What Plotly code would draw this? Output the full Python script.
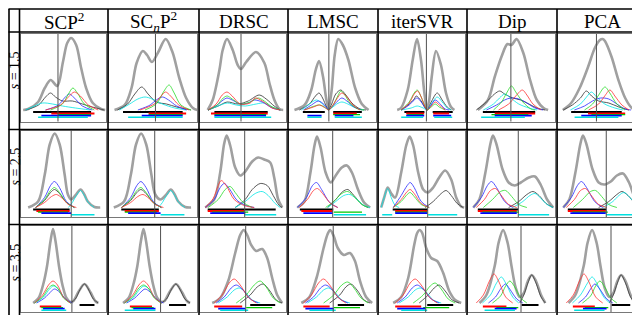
import plotly.graph_objects as go

W, H = 640, 315

methods = ["SCP<sup>2</sup>", "SC<sub><i>n</i></sub>P<sup>2</sup>", "DRSC", "LMSC", "iterSVR", "Dip", "PCA"]
s_labels = ["<i>s</i> = 1.5", "<i>s</i> = 2.5", "<i>s</i> = 3.5"]

# ---------------- data (x: position in panel, y: density height) ----------
# total density (thick gray) per method, for s = 1.5, 2.5, 3.5
gray_s15 = [
    [[2.5,0],[7.5,1],[17.5,8],[24.2,22],[30.2,30],[36.8,24],[42.5,48],[46.8,67],[50.8,72],[55.8,65],[60.8,42],[65.8,22],[72.5,7],[80.8,1],[85,0]],
    [[5.2,0],[15.2,5],[21.8,22],[26.8,47],[32.8,59],[37,55],[41.8,48],[48,58],[55.2,71],[61.8,58],[68.5,32],[75.2,12],[81.8,2],[86,0]],
    [[7.5,0],[12.5,10],[19.2,40],[22.5,60],[26.8,71],[32.5,60],[37.5,45],[40.8,41],[46,48],[55.8,58],[64.2,47],[69.2,27],[74.2,10],[79.2,1],[83,0]],
    [[5.2,0],[15.2,5],[21.8,20],[26.2,40],[29.5,49],[33.5,33],[36.8,10],[39,2],[42,20],[45,55],[48.5,71],[53,65],[58.5,50],[65.2,22],[71.8,6],[78.5,0]],
    [[18,0],[21.8,2],[28.5,20],[33.5,50],[37.8,71],[41.8,50],[45.2,17],[47.8,1],[50,10],[52.5,33],[56.8,59],[61.8,45],[66.8,17],[71.8,3],[75.2,0]],
    [[9.5,0],[19.5,10],[26.2,33],[32.8,53],[38.8,66],[42.8,65],[47.8,71],[54.5,57],[61.2,30],[67.8,10],[74.5,2],[79,0]],
    [[4.5,0],[12.8,7],[21.2,22],[29.5,43],[36.2,62],[41.2,70],[44,71],[46.2,69],[52.8,53],[59.5,30],[66.2,12],[72.8,2],[78,0]],
]
gray_s25 = [
    [[7.5,0],[17.5,6],[24.2,33],[29.2,63],[34.2,74],[39.2,63],[44.2,33],[47.5,13],[50.8,8],[55,12],[60.2,18],[64,13],[67.5,6],[74.2,0.5],[80,0]],
    [[4.5,0],[14.5,6],[21.2,33],[26.2,63],[31.2,74],[36.2,63],[41.2,33],[45,13],[50.2,8],[55,12],[60.2,18],[64,13],[67.5,6],[74.2,0.5],[80,0]],
    [[5,0],[14,8],[20,35],[24,64],[26.5,72],[30,62],[35,40],[40,32],[45,36],[52,46],[58,50],[64,48],[70,45],[74,30],[78,8],[82,0]],
    [[8,0],[15,6],[21,35],[25,62],[27.5,71],[31,60],[36,35],[41,25],[46,32],[52,40],[57,42],[62,35],[68,18],[74,5],[80,0]],
    [[2,0],[5,10],[8.5,20],[12,14],[16,10],[22,35],[27,62],[30.5,71],[34,62],[39,35],[44,18],[48.5,15],[54,20],[60,30],[66,37],[72,28],[77,10],[82,1],[85,0]],
    [[5,0],[11,8],[17,35],[22,64],[24.5,72],[28,63],[34,38],[40,25],[46,22],[52,25],[60,30],[66,31],[72,22],[78,8],[84,0]],
    [[5,0],[11,8],[17,35],[22,64],[24.5,72],[28,63],[34,38],[40,25],[46,23],[52,26],[58,32],[64,34],[70,25],[76,9],[82,0]],
]
gray_s35 = [
    [[12.5,0],[18,5],[23,20],[26.5,37],[30,62],[32.5,74],[35,62],[38.5,37],[42,18],[46,5],[50,1],[53,2],[58,11],[64.2,19],[70,11],[75,2],[78,0]],
    [[13.5,0],[19,5],[24,20],[27.5,37],[31,62],[33.5,74],[36,62],[39.5,37],[43,18],[47,5],[51,1],[54,2],[59,11],[65.2,19],[71,11],[76,2],[79,0]],
    [[12,0],[20,5],[28,22],[35,50],[40,68],[43.5,73],[47,68],[51,58],[56,52],[62,54],[67,45],[72,25],[77,8],[82,0]],
    [[12,0],[20,6],[27,25],[34,55],[38,69],[40.5,73],[44,67],[48,55],[54,48],[60,50],[65,42],[70,22],[76,6],[82,0]],
    [[14,0],[22,6],[29,25],[35,58],[38,70],[40.5,73],[43,70],[47,55],[52,45],[58,42],[64,30],[70,12],[76,3],[82,0]],
    [[11.2,0],[18,8],[26.2,37],[30,60],[34.5,73],[39,60],[42.8,37],[47,15],[51,6],[55,10],[59,22],[62.8,28],[67,22],[72,8],[76.2,0]],
    [[10.2,0],[17,8],[25.2,37],[29,60],[33.5,73],[38,60],[41.8,37],[46,15],[50.5,6],[54.5,10],[58.5,22],[62.2,28],[66.5,22],[71.5,8],[76,0]],
]

# component densities (thin lines)
dark_s15 = [
    [[5,0],[18,5],[25,13],[30,17],[35,13],[42,9],[52,9],[62,6],[72,3],[84,0]],
    [[8,0],[18,6],[25,16],[31.8,23],[38,16],[46,8],[56,6],[66,3],[80,0]],
    [[8,0],[18,4],[27,8],[38,6],[48,9],[59,15],[66,11],[74,4],[80,0]],
    [[10,0],[20,6],[26,14],[29.5,17],[33,12],[37,3],[39,0.5],[42,6],[46,16],[51,20],[56,15],[62,7],[70,1],[76,0]],
    [[22,0],[30,6],[35,11],[37,14],[42,9],[46,2],[48,0],[52,8],[58,17],[63,10],[68,3],[72,0]],
    [[8,0],[18,8],[26,16],[31.2,19],[36,16],[44,12],[52,10],[60,6],[68,2],[76,0]],
    [[5,0],[14,5],[22,12],[27.8,19],[33,14],[40,9],[50,7],[60,3],[70,0]],
]
red_s15 = [
    [[25,0],[40,5],[48,13],[54,18],[60,14],[68,5],[78,0]],
    [[30,0],[44,6],[50,13],[55,18],[60,14],[68,5],[78,0]],
    [[8,0],[16,6],[22,15],[26.8,18],[32,14],[40,6],[50,7],[55,12],[62,9],[72,2],[80,0]],
    [[15,0],[24,3],[30,5],[36,2],[39,0],[42,3],[47,11],[52,17],[57,13],[63,5],[70,0]],
    [[22,0],[30,7],[35,16],[38.5,19],[42,13],[46,3],[48,0],[52,4],[56,8],[60,5],[66,0]],
    [[30,0],[40,6],[47,14],[53.5,20],[58,15],[64,6],[72,0]],
    [[30,0],[40,6],[46,14],[51.2,20],[56,14],[63,5],[70,0]],
]
green_s15 = [
    [[30,0],[42,6],[48,16],[52.5,22],[57,17],[64,6],[74,0]],
    [[35,0],[46,6],[53,18],[58.5,25],[63,18],[70,5],[80,0]],
    [[8,0],[17,5],[23,12],[27,14],[32,11],[40,6],[50,8],[58,12],[64,9],[72,3],[80,0]],
    [[15,0],[25,4],[30,5],[36,2],[39,0],[44,6],[48,14],[51,19],[55,15],[60,7],[68,1],[74,0]],
    [[22,0],[30,8],[35,17],[38,20],[42,13],[46,3],[48,0],[52,3],[56,6],[60,3],[66,0]],
    [[25,0],[33,8],[38,17],[42.8,24],[47,18],[54,8],[62,1],[66,0]],
    [[26,0],[34,6],[40,15],[46.2,23],[51,17],[58,6],[66,0]],
]
blue_s15 = [
    [[25,0],[38,5],[44,12],[49,16],[54,12],[62,4],[72,0]],
    [[28,0],[40,5],[46,10],[52,13],[58,10],[66,4],[76,0]],
    [[8,0],[17,5],[23,10],[26.8,12],[32,10],[40,6],[48,7],[54,10],[62,8],[72,2],[80,0]],
    [[14,0],[22,5],[29,9],[35,5],[39,0],[42,3],[47,8],[52,12],[57,9],[64,3],[72,0]],
    [[22,0],[30,5],[35,10],[38,12],[42,8],[46,2],[48,0],[52,5],[56,10],[60,7],[66,1],[70,0]],
    [[18,0],[28,5],[36,10],[42,12],[50,11],[58,7],[66,2],[74,0]],
    [[16,0],[26,4],[34,9],[42,12],[50,11],[58,6],[66,1],[72,0]],
]
cyan_s15 = [
    [[5,0],[14,4],[22,7],[32,6],[42,4],[55,2],[70,0]],
    [[10,0],[20,6],[28,11],[35,13],[42,11],[52,6],[64,2],[75,0]],
    [[8,0],[18,4],[27,7],[36,5],[45,4],[56,6],[64,7],[72,3],[80,0]],
    [[12,0],[20,6],[27,10],[33,6],[39,0.5],[42,2],[47,6],[52,8],[58,6],[66,2],[74,0]],
    [[22,0],[32,2],[38,4],[44,2],[48,0],[52,6],[58,13],[63,8],[68,2],[72,0]],
    [[15,0],[25,6],[31,12],[36,16],[42,12],[50,6],[60,2],[68,0]],
    [[12,0],[22,6],[28,13],[32.8,18],[38,13],[46,6],[56,2],[64,0]],
]

dark_s25 = [
    [[15,0],[24,7],[30,15],[34,18],[39,14],[46,5],[54,0]],
    [[12,0],[21,7],[27,15],[31,18],[36,14],[43,5],[51,0]],
    [[35,0],[45,8],[52,18],[60,24],[67,22],[73,12],[79,2],[82,0]],
    [[38,0],[46,8],[53,16],[58,18],[64,12],[72,3],[78,0]],
    [[46,0],[54,6],[62,14],[67,17],[72,12],[78,4],[84,0]],
    [[40,0],[50,6],[58,13],[64,16],[70,12],[77,4],[84,0]],
    [[40,0],[50,6],[58,13],[63,16],[69,12],[76,4],[82,0]],
]
red_s25 = [
    [[15,0],[24,5],[31,11],[36,13],[42,9],[48,3],[56,0]],
    [[12,0],[21,5],[28,11],[33,13],[39,9],[45,3],[53,0]],
    [[5,0],[13,9],[18,22],[21,27],[26,22],[34,8],[44,2],[54,0]],
    [[10,0],[18,8],[24,17],[28,19],[33,14],[41,4],[48,0]],
    [[14,0],[22,8],[28,16],[31,18],[35,14],[42,4],[50,0]],
    [[8,0],[16,8],[22,17],[27,19],[32,13],[40,3],[48,0]],
    [[8,0],[16,8],[22,17],[27,19],[32,13],[40,3],[48,0]],
]
green_s25 = [
    [[15,0],[24,8],[30,17],[34,20],[39,15],[46,5],[54,0]],
    [[12,0],[21,8],[27,17],[31,20],[36,15],[43,5],[51,0]],
    [[8,0],[18,8],[25,18],[30,21],[35,15],[43,5],[52,0]],
    [[36,0],[44,6],[52,14],[58,16],[64,11],[72,3],[78,0]],
    [[14,0],[22,6],[28,13],[31,15],[35,11],[42,3],[50,0]],
    [[15,0],[24,8],[32,16],[37,17],[43,11],[50,3],[58,0]],
    [[15,0],[24,8],[32,16],[37,17],[43,11],[50,3],[58,0]],
]
blue_s25 = [
    [[15,0],[24,10],[30,22],[34,26],[39,20],[46,6],[54,0]],
    [[12,0],[21,10],[27,22],[31,26],[36,20],[43,6],[51,0]],
    [[5,0],[14,8],[20,20],[24,24],[29,19],[37,7],[46,2],[54,0]],
    [[8,0],[17,10],[23,22],[27,25],[32,18],[40,5],[48,0]],
    [[14,0],[22,12],[28,22],[31,25],[35,20],[42,6],[50,0]],
    [[5,0],[13,10],[19,22],[23,26],[28,20],[36,6],[44,0]],
    [[5,0],[13,10],[19,22],[23,26],[28,20],[36,6],[44,0]],
]
cyan_s25 = [
    [[48,0],[52,5],[56,12],[60.2,17],[64,12],[68,5],[74,0]],
    [[48,0],[52,5],[56,12],[60.2,17],[64,12],[68,5],[74,0]],
    [[35,0],[45,6],[55,14],[62,16],[68,12],[75,4],[80,0]],
    [[38,0],[46,6],[54,12],[60,13],[66,9],[74,2],[80,0]],
    [[2,0],[5,10],[8.5,19],[12,10],[16,2],[20,0]],
    [[44,0],[54,6],[61,12],[66,14],[71,10],[78,3],[84,0]],
    [[44,0],[54,6],[60,12],[65,15],[70,11],[77,3],[82,0]],
]

dark_s35 = [
    [[50,0],[55,4],[60,14],[64.2,19],[68,14],[73,4],[78,0]],
    [[51,0],[56,4],[61,14],[65.2,19],[69,14],[74,4],[79,0]],
    [[40,0],[50,8],[57,16],[63,19],[69,13],[76,3],[82,0]],
    [[40,0],[50,8],[56,16],[61,19],[67,13],[74,3],[80,0]],
    [[40,0],[49,8],[55,15],[60,18],[66,12],[73,3],[80,0]],
    [[51,0],[55,8],[59,20],[62.8,28],[67,20],[72,6],[76.2,0]],
    [[50.5,0],[54.5,8],[58.5,20],[62.2,28],[66.5,20],[71.5,6],[76,0]],
]
red_s35 = [
    [[14,0],[22,8],[28,18],[32.5,22],[37,18],[43,6],[50,0]],
    [[15,0],[23,8],[29,18],[33.5,22],[38,18],[44,6],[51,0]],
    [[14,0],[22,8],[29,20],[34,24],[40,18],[48,6],[56,0]],
    [[14,0],[22,8],[29,20],[34,24],[40,18],[48,6],[56,0]],
    [[16,0],[24,8],[31,20],[36,24],[42,18],[50,6],[58,0]],
    [[8,0],[15,8],[21,22],[25.5,29],[30,22],[37,6],[44,0]],
    [[8,0],[15,8],[21,22],[25.5,29],[30,22],[37,6],[44,0]],
]
green_s35 = [
    [[14,0],[22,6],[28,15],[32.5,18],[37,15],[43,5],[50,0]],
    [[15,0],[23,6],[29,15],[33.5,18],[38,15],[44,5],[51,0]],
    [[36,0],[46,8],[54,18],[60,22],[66,16],[73,5],[80,0]],
    [[34,0],[44,8],[52,18],[58,21],[64,15],[71,5],[78,0]],
    [[34,0],[44,8],[51,17],[56,20],[62,14],[69,4],[76,0]],
    [[24,0],[32,7],[37,17],[41.2,22],[46,16],[52,5],[58,0]],
    [[24,0],[32,7],[37,17],[41.2,22],[46,16],[52,5],[58,0]],
]
blue_s35 = [
    [[16,0],[24,5],[30,11],[34,14],[39,11],[45,4],[52,0]],
    [[17,0],[25,5],[31,11],[35,14],[40,11],[46,4],[53,0]],
    [[16,0],[24,6],[31,15],[36,18],[42,14],[50,4],[58,0]],
    [[16,0],[24,6],[31,15],[36,18],[42,14],[50,4],[58,0]],
    [[18,0],[26,6],[33,15],[38,18],[44,14],[52,4],[60,0]],
    [[20,0],[27,6],[32,14],[36.8,19],[41,14],[48,4],[54,0]],
    [[20,0],[27,6],[32,14],[36.2,19],[41,14],[48,4],[54,0]],
]
cyan_s35 = [
    [[14,0],[23,6],[29,14],[33,17],[38,14],[44,5],[50,0]],
    [[15,0],[24,6],[30,14],[34,17],[39,14],[45,5],[51,0]],
    [[18,0],[27,6],[34,13],[39,15],[45,11],[52,3],[60,0]],
    [[18,0],[27,6],[34,13],[39,15],[45,11],[52,3],[60,0]],
    [[20,0],[29,6],[36,13],[41,15],[47,11],[54,3],[62,0]],
    [[14,0],[22,8],[28,20],[32.8,26],[37,20],[44,6],[50,0]],
    [[14,0],[22,8],[29,20],[33.5,26],[38,20],[45,6],[51,0]],
]

# split position (vertical line) per method
split_s15 = [37.5, 45.2, 40.8, 39.2, 47.2, 42.2, 37.8]
split_s25 = [50.8, 44.5, 44.5, 43.0, 48.5, 49.5, 47.5]
split_s35 = [51.5, 50.2, 45.5, 43.5, 46.5, 52.2, 52.2]

# sample strips below the axis: [cluster colour, start, end]
strips_s15 = [
    [["k",12.5,70.8],["r",30.8,74.2],["g",37.5,70.8],["b",20.8,70.8],["c",17.5,67.5]],
    [["k",13.5,71.8],["r",38.5,75.2],["g",38.5,71.8],["b",31.8,71.8],["c",18.5,71.8]],
    [["k",14.2,67.5],["r",10.8,67.5],["g",14.2,66],["b",14.2,65.8],["c",14.2,71]],
    [["k",13.5,35.2],["k",43.5,71.8],["r",43.5,66.8],["g",43.5,70],["b",18,32],["b",45,63.5],["c",18,32],["c",45,71.8]],
    [["k",25.2,45.2],["k",53.5,73.5],["r",27,45],["r",54,70],["g",28,44],["b",27,45],["b",54,72],["c",22,44],["c",55,73]],
    [["k",14.5,66.2],["r",26.2,66.2],["g",23,59.5],["b",26.2,62.8],["c",12.8,56]],
    [["k",12.8,62.8],["r",29.5,66.2],["g",32.8,66.2],["b",22.8,62.8],["c",16.2,59.5]],
]
strips_s25 = [
    [["k",12.5,49.2],["r",15.8,49.2],["g",17.5,47.5],["b",20.8,50.8],["c",50.8,74.2]],
    [["k",11.8,48.5],["r",15.2,48.5],["g",15.2,46.5],["b",18.5,50.2],["c",50.2,73.5]],
    [["k",7.5,75.5],["r",7.5,44],["g",12,48],["b",10,45],["c",44,76]],
    [["k",10.5,43.5],["r",12,43],["g",44,72],["b",14,43],["c",44,76]],
    [["k",13.5,48.5],["r",16,48],["g",16,48],["b",16,48],["c",3,13],["c",49,78]],
    [["k",9.5,49.5],["r",9.5,48],["g",14,50],["b",12,48],["c",49.5,80]],
    [["k",9.5,47.5],["r",9.5,47],["g",14,49],["b",12,47],["c",47.5,80]],
]
strips_s35 = [
    [["k",59.2,74.2],["r",19.2,40.8],["g",20.8,42.5],["b",22.5,44.2],["c",20.8,45.8]],
    [["k",58.5,75.2],["r",20.2,41.8],["g",21.8,43.5],["b",23.5,45.2],["c",15.2,45.2]],
    [["k",50,75],["r",14,42],["g",46,72],["b",18,45],["c",20,48]],
    [["k",48,74],["r",14,40],["g",44,70],["b",16,44],["c",20,46]],
    [["k",48,74],["r",16,42],["g",44,70],["b",18,46],["c",22,48]],
    [["k",52.8,69.5],["r",14.5,37.8],["g",27.8,49.5],["b",26.2,47.8],["c",16.2,46.2]],
    [["k",52.8,71.2],["r",14.5,36.2],["g",26.2,49.5],["b",24.5,47.8],["c",15.8,45.8]],
]

gray_rows = [gray_s15, gray_s25, gray_s35]
dark_rows = [dark_s15, dark_s25, dark_s35]
red_rows = [red_s15, red_s25, red_s35]
green_rows = [green_s15, green_s25, green_s35]
blue_rows = [blue_s15, blue_s25, blue_s35]
cyan_rows = [cyan_s15, cyan_s25, cyan_s35]
split_rows = [split_s15, split_s25, split_s35]
strip_rows = [strips_s15, strips_s25, strips_s35]

# ---------------- layout geometry (pixels) ----------------
col_edges = [11.5, 100, 191, 280, 370, 459, 549, 639]
row_edges = [1, 24, 121.5, 216.5, 313.5]
frame_tb = [(26, 113.5), (122.5, 209), (218, 304)]
y_ranges = [(-11.5, 76), (-9.5, 77), (-9, 77)]
X_RANGE = (0, 86)

def px(x):
    return x / W

def py(y):
    return 1 - y / H

strip_y = {"k": -2.0, "r": -3.5, "g": -4.6, "b": -5.7, "c": -7.2}
strip_col = {"k": "#000000", "r": "#ff0000", "g": "#00c800", "b": "#0000ff", "c": "#00e0e0"}
strip_w = {"k": 2.2, "r": 1.8, "g": 1.4, "b": 1.8, "c": 1.5}

fig = go.Figure()
layout = {}
shapes = []
annotations = []

line_specs = [
    (gray_rows, "rgb(160,160,160)", 2.6),
    (dark_rows, "rgb(70,70,70)", 0.9),
    (cyan_rows, "rgb(0,230,230)", 0.8),
    (blue_rows, "rgb(40,40,255)", 0.8),
    (green_rows, "rgb(40,220,40)", 0.8),
    (red_rows, "rgb(255,50,50)", 0.8),
]

for r in range(3):
    for c in range(7):
        k = r * 7 + c + 1
        xa = "x" if k == 1 else f"x{k}"
        ya = "y" if k == 1 else f"y{k}"
        fl = col_edges[c] + 1.2
        fr = col_edges[c + 1] - 1.8
        ft, fb = frame_tb[r]
        axcommon = dict(showgrid=False, zeroline=False, showticklabels=False, ticks="",
                        showline=True, mirror=True, linecolor="rgb(120,120,120)", linewidth=1,
                        fixedrange=True)
        layout["xaxis" if k == 1 else f"xaxis{k}"] = dict(domain=[px(fl), px(fr)], range=list(X_RANGE),
                                                          anchor=ya, **axcommon)
        layout["yaxis" if k == 1 else f"yaxis{k}"] = dict(domain=[py(fb), py(ft)], range=list(y_ranges[r]),
                                                          anchor=xa, **axcommon)
        for col_key, x0, x1 in strip_rows[r][c]:
            fig.add_trace(go.Scatter(x=[x0, x1], y=[strip_y[col_key]] * 2, mode="lines",
                                     line=dict(color=strip_col[col_key], width=strip_w[col_key]),
                                     xaxis=xa, yaxis=ya, hoverinfo="skip", showlegend=False))
        for rows, color, width in line_specs:
            pts = rows[r][c]
            fig.add_trace(go.Scatter(x=[p[0] for p in pts], y=[p[1] for p in pts], mode="lines",
                                     line=dict(color=color, width=width, shape="spline", smoothing=0.9),
                                     xaxis=xa, yaxis=ya, hoverinfo="skip", showlegend=False))
        shapes.append(dict(type="line", xref=xa, yref=f"{ya} domain", x0=split_rows[r][c], x1=split_rows[r][c],
                           y0=0, y1=1, line=dict(color="rgb(80,80,80)", width=1)))

# table rules
BL = dict(color="black", width=1.6)
for y in row_edges:
    shapes.append(dict(type="line", xref="paper", yref="paper", x0=px(0.5), x1=px(639.5), y0=py(y), y1=py(y), line=BL))
for x in [1] + col_edges:
    shapes.append(dict(type="line", xref="paper", yref="paper", x0=px(x), x1=px(x), y0=py(1), y1=py(313.5), line=BL))

for c, m in enumerate(methods):
    cx = (col_edges[c] + col_edges[c + 1]) / 2
    annotations.append(dict(text=m, x=px(cx), y=py(13.5), xref="paper", yref="paper", showarrow=False,
                            font=dict(family="Liberation Serif", size=19, color="black"),
                            xanchor="center", yanchor="middle"))
for r, lab in enumerate(s_labels):
    cy = (row_edges[r + 1] + row_edges[r + 2]) / 2 - 10
    annotations.append(dict(text=lab, x=px(6.5), y=py(cy), xref="paper", yref="paper", showarrow=False,
                            textangle=-90, font=dict(family="Liberation Serif", size=14, color="black"),
                            xanchor="center", yanchor="middle"))

fig.update_layout(width=W, height=H, margin=dict(l=0, r=0, t=0, b=0), paper_bgcolor="white",
                  plot_bgcolor="white", shapes=shapes, annotations=annotations, showlegend=False, **layout)
fig.write_html("out.html")
